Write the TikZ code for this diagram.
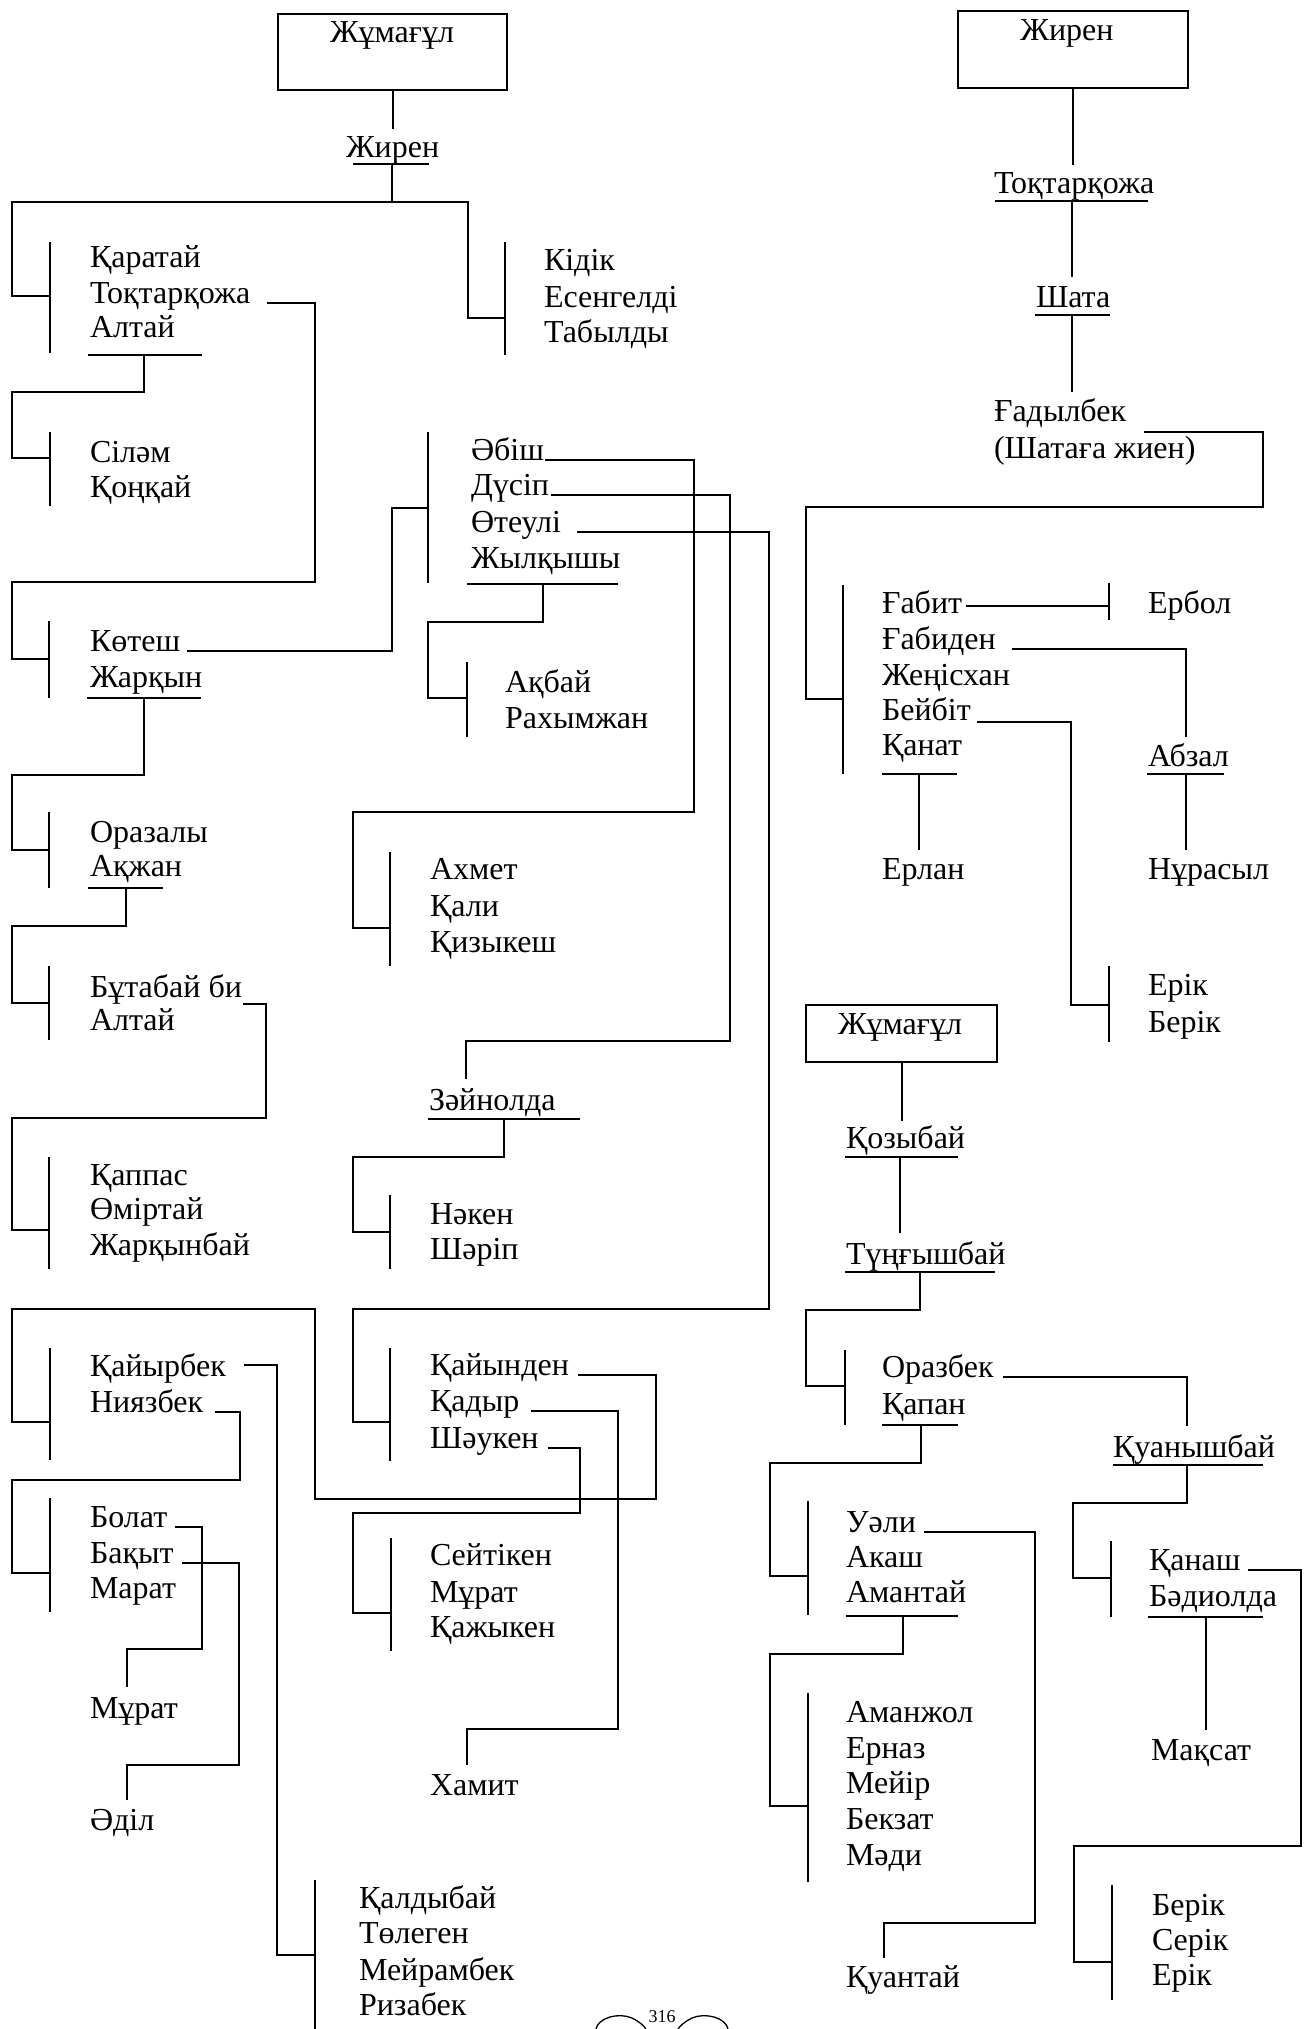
\documentclass[tikz,border=0pt]{standalone}
\usepackage{fontspec}
\setmainfont{Liberation Serif}
\begin{document}
\begin{tikzpicture}[x=1pt,y=-1pt,line width=2pt,
  nm/.style={anchor=base west,inner sep=0pt,font=\fontsize{32}{37}\selectfont},
  cn/.style={anchor=base,inner sep=0pt,font=\fontsize{32}{37}\selectfont},
  bx/.style={draw,line width=2.4pt,inner sep=0pt,anchor=north west}]
\useasboundingbox (0,0) rectangle (1306,2029);
\fill[white] (0,0) rectangle (1306,2029);
% ---------- boxes
\node[bx,minimum width=229pt,minimum height=76pt] (box1) at (277,13) {};
\node[cn] (zhum1) at (392,42) {Жұмағұл};
\node[bx,minimum width=230pt,minimum height=77pt] (box2) at (957,10) {};
\node[cn] (zhir2) at (1067,40) {Жирен};
\node[bx,minimum width=191pt,minimum height=57pt] (box3) at (805,1004) {};
\node[cn] (zhum3) at (900,1034) {Жұмағұл};
% ---------- left column names
\node[nm] (zhir1) at (345,157) {Жирен};
\node[nm] (kar) at (89,267) {Қаратай};
\node[nm] (tok1) at (89,303) {Тоқтарқожа};
\node[nm] (alt1) at (89,337) {Алтай};
\node[nm] (sil) at (89,462) {Сілəм};
\node[nm] (kon) at (89,497) {Қоңқай};
\node[nm] (kot) at (89,651) {Көтеш};
\node[nm] (zhar) at (89,687) {Жарқын};
\node[nm] (oraz) at (89,842) {Оразалы};
\node[nm] (akzh) at (89,876) {Ақжан};
\node[nm] (but) at (89,997) {Бұтабай би};
\node[nm] (alt2) at (89,1030) {Алтай};
\node[nm] (kap) at (89,1185) {Қаппас};
\node[nm] (omir) at (89,1219) {Өміртай};
\node[nm] (zharb) at (89,1255) {Жарқынбай};
\node[nm] (kaiyr) at (89,1376) {Қайырбек};
\node[nm] (niyaz) at (89,1412) {Ниязбек};
\node[nm] (bolat) at (89,1527) {Болат};
\node[nm] (bakyt) at (89,1563) {Бақыт};
\node[nm] (marat) at (89,1598) {Марат};
\node[nm] (murat1) at (89,1718) {Мұрат};
\node[nm] (adil) at (89,1830) {Әділ};
\node[nm] (kald) at (358,1908) {Қалдыбай};
\node[nm] (toleg) at (358,1943) {Төлеген};
\node[nm] (meir) at (358,1980) {Мейрамбек};
\node[nm] (riza) at (358,2015) {Ризабек};
% ---------- middle names
\node[nm] (kidik) at (543,270) {Кідік};
\node[nm] (esen) at (543,307) {Есенгелді};
\node[nm] (tabyl) at (543,342) {Табылды};
\node[nm] (abish) at (470,460) {Әбіш};
\node[nm] (dusip) at (470,495) {Дүсіп};
\node[nm] (oteuli) at (470,532) {Өтеулі};
\node[nm] (zhylk) at (470,568) {Жылқышы};
\node[nm] (akbai) at (504,692) {Ақбай};
\node[nm] (rakh) at (504,728) {Рахымжан};
\node[nm] (akhmet) at (429,879) {Ахмет};
\node[nm] (kali) at (429,916) {Қали};
\node[nm] (kiz) at (429,952) {Қизыкеш};
\node[nm] (zain) at (428,1110) {Зәйнолда};
\node[nm] (naken) at (429,1224) {Нәкен};
\node[nm] (sharip) at (429,1259) {Шәріп};
\node[nm] (kaiyn) at (429,1375) {Қайынден};
\node[nm] (kadyr) at (429,1411) {Қадыр};
\node[nm] (shauk) at (429,1448) {Шәукен};
\node[nm] (seit) at (429,1565) {Сейтікен};
\node[nm] (murat2) at (429,1602) {Мұрат};
\node[nm] (kazh) at (429,1637) {Қажыкен};
\node[nm] (khamit) at (429,1795) {Хамит};
% ---------- right names
\node[nm] (tok2) at (993,193) {Тоқтарқожа};
\node[nm] (shata) at (1035,307) {Шата};
\node[nm] (gadyl) at (993,421) {Ғадылбек};
\node[nm] (gadyl2) at (993,458) {(Шатаға жиен)};
\node[nm] (gabit) at (881,613) {Ғабит};
\node[nm] (gabid) at (881,649) {Ғабиден};
\node[nm] (zhenis) at (881,685) {Жеңісхан};
\node[nm] (beib) at (881,720) {Бейбіт};
\node[nm] (kanat) at (881,755) {Қанат};
\node[nm] (erbol) at (1147,613) {Ербол};
\node[nm] (abzal) at (1147,766) {Абзал};
\node[nm] (erlan) at (881,879) {Ерлан};
\node[nm] (nuras) at (1147,879) {Нұрасыл};
\node[nm] (erik1) at (1147,995) {Ерік};
\node[nm] (berik1) at (1147,1032) {Берік};
\node[nm] (kozy) at (845,1148) {Қозыбай};
\node[nm] (tung) at (845,1264) {Түңғышбай};
\node[nm] (orazb) at (881,1377) {Оразбек};
\node[nm] (kapan) at (881,1414) {Қапан};
\node[nm] (kuan) at (1112,1457) {Қуанышбай};
\node[nm] (uali) at (845,1532) {Уәли};
\node[nm] (akash) at (845,1567) {Акаш};
\node[nm] (amant) at (845,1602) {Амантай};
\node[nm] (amanzh) at (845,1722) {Аманжол};
\node[nm] (ernaz) at (845,1758) {Ерназ};
\node[nm] (meiir) at (845,1793) {Мейір};
\node[nm] (bekz) at (845,1829) {Бекзат};
\node[nm] (madi) at (845,1865) {Мәди};
\node[nm] (kuant) at (845,1987) {Қуантай};
\node[nm] (kanash) at (1148,1570) {Қанаш};
\node[nm] (badi) at (1148,1606) {Бәдиолда};
\node[nm] (maks) at (1150,1760) {Мақсат};
\node[nm] (berik2) at (1151,1915) {Берік};
\node[nm] (serik) at (1151,1950) {Серік};
\node[nm] (erik2) at (1151,1985) {Ерік};
% page number
\node[anchor=base,inner sep=0pt,font=\fontsize{18}{22}\selectfont] (pg) at (662,2022) {316};
\draw[line width=1.3pt] (596,2029) .. controls (598,2018) and (618,2012) .. (632,2018) .. controls (640,2022) and (644,2026) .. (646,2029);
\draw[line width=1.3pt] (728,2029) .. controls (726,2018) and (706,2012) .. (692,2018) .. controls (684,2022) and (680,2026) .. (678,2029);
% ================= connectors: top-left tree
\draw (box1.south) -- ++(0,38);
\draw (353,164) -- (429,164);
\draw (392,164) -- (392,202);
\draw (50,296) -| (12,202) -| (468,318) -- (505,318);
\draw (50,242) -- (50,353);
\draw (505,242) -- (505,355);
\draw (88,355) -- (202,355);
\draw (144,355) -- (144,392) -| (12,458) -- (50,458);
\draw (50,432) -- (50,506);
\draw ([xshift=16pt]tok1.base east) -| (315,582) -| (12,659) -- (49,659);
\draw (49,621) -- (49,698);
\draw ([xshift=6pt]kot.base east) -| (392,508) -- (428,508);
\draw (428,432) -- (428,583);
\draw (87,698) -- (201,698);
\draw (144,698) -- (144,775) -| (12,850) -- (49,850);
\draw (49,812) -- (49,888);
\draw (88,888) -- (163,888);
\draw (126,888) -- (126,926) -| (12,1003) -- (49,1003);
\draw (49,966) -- (49,1040);
\draw ([xshift=0pt,yshift=-7pt]but.base east) -| (266,1118) -| (12,1230) -- (49,1230);
\draw (49,1157) -- (49,1269);
% middle
\draw (467,584) -- (618,584);
\draw (543,584) -- (543,622) -| (428,698) -- (467,698);
\draw (467,662) -- (467,737);
\draw ([xshift=0pt]abish.base east) -| (694,812) -| (353,928) -- (390,928);
\draw (390,852) -- (390,966);
\draw ([xshift=1pt]dusip.base east) -| (730,1041) -| (466,1079);
\draw (428,1119) -- (580,1119);
\draw (504,1119) -- (504,1157) -| (353,1232) -- (390,1232);
\draw (390,1195) -- (390,1269);
\draw ([xshift=15pt]oteuli.base east) -| (769,1309) -| (353,1422) -- (390,1422);
\draw (390,1348) -- (390,1461);
\draw ([xshift=8pt]kaiyn.base east) -| (656,1499) -| (315,1309) -| (12,1422) -- (50,1422);
\draw (50,1348) -- (50,1460);
\draw ([xshift=11pt]kadyr.base east) -| (618,1729) -| (467,1765);
\draw ([xshift=8pt]shauk.base east) -| (580,1513) -| (353,1613) -- (391,1613);
\draw (391,1538) -- (391,1651);
\draw ([xshift=17pt,yshift=11pt]kaiyr.base east) -| (277,1955) -- (315,1955);
\draw (315,1880) -- (315,2035);
\draw ([xshift=11pt]niyaz.base east) -| (240,1480) -| (12,1573) -- (50,1573);
\draw (50,1498) -- (50,1612);
\draw ([xshift=7pt]bolat.base east) -| (202,1649) -| (127,1687);
\draw ([xshift=7pt]bakyt.base east) -| (239,1765) -| (127,1800);
% ================= right top tree
\draw (box2.south) -- ++(0,76);
\draw (995,201) -- (1148,201);
\draw (1072,201) -- (1072,277);
\draw (1035,315) -- (1110,315);
\draw (1072,315) -- (1072,392);
\draw ([xshift=17pt,yshift=-11pt]gadyl.base east) -| (1263,507) -| (806,699) -- (843,699);
\draw (843,585) -- (843,774);
\draw ([xshift=3pt,yshift=7pt]gabit.base east) -- (1109,606);
\draw (1109,583) -- (1109,620);
\draw ([xshift=15pt]gabid.base east) -| (1186,737);
\draw (1147,774) -- (1224,774);
\draw (1186,774) -- (1186,850);
\draw ([xshift=5pt,yshift=-2pt]beib.base east) -| (1071,1005) -- (1109,1005);
\draw (1109,966) -- (1109,1042);
\draw (882,774) -- (957,774);
\draw (919,774) -- (919,850);
% ================= right bottom tree
\draw (box3.south) -- ++(0,58);
\draw (845,1157) -- (958,1157);
\draw (900,1157) -- (900,1233);
\draw (845,1272) -- (995,1272);
\draw (920,1272) -- (920,1310) -| (806,1386) -- (845,1386);
\draw (845,1350) -- (845,1425);
\draw ([xshift=8pt]orazb.base east) -| (1187,1426);
\draw (1113,1465) -- (1263,1465);
\draw (1187,1465) -- (1187,1503) -| (1073,1578) -- (1111,1578);
\draw (1111,1541) -- (1111,1617);
\draw (882,1425) -- (958,1425);
\draw (921,1425) -- (921,1463) -| (770,1576) -- (808,1576);
\draw (808,1501) -- (808,1615);
\draw ([xshift=7pt]uali.base east) -| (1035,1923) -| (884,1958);
\draw (846,1616) -- (958,1616);
\draw (903,1616) -- (903,1654) -| (770,1806) -- (808,1806);
\draw (808,1693) -- (808,1882);
\draw (1148,1617) -- (1263,1617);
\draw (1206,1617) -- (1206,1730);
\draw ([xshift=6pt]kanash.base east) -| (1301,1846) -| (1074,1962) -- (1112,1962);
\draw (1112,1885) -- (1112,2000);
\end{tikzpicture}
\end{document}
